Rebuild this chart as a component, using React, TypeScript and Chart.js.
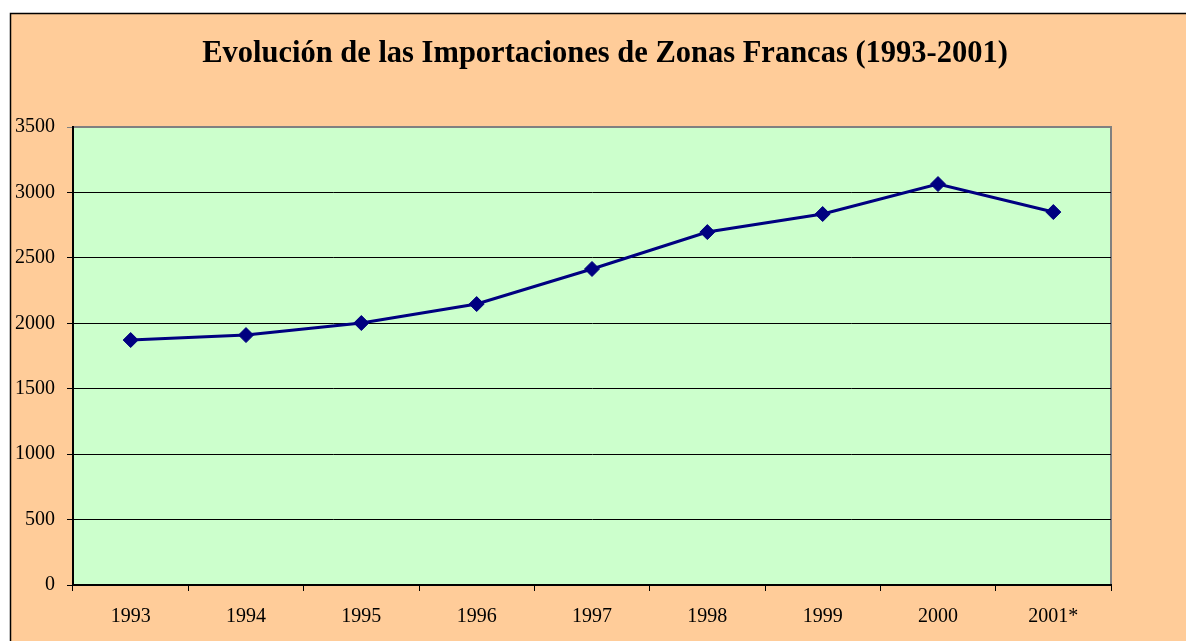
import React, { useEffect, useRef } from "react";
import { Chart, registerables } from "chart.js";

Chart.register(...registerables);

const TITLE = "Evolución de las Importaciones de Zonas Francas (1993-2001)";
const CATEGORIES = ["1993", "1994", "1995", "1996", "1997", "1998", "1999", "2000", "2001*"];
const IMPORTS = [1872, 1910, 2002, 2147, 2415, 2697, 2835, 3064, 2850];
const Y_MIN = 0;
const Y_MAX = 3500;
const Y_STEP = 500;

const FONT = "'Liberation Serif', 'Times New Roman', serif";

const backgroundPlugin = {
  id: "bgPlugin",
  beforeDraw(chart: any) {
    const { ctx, width, height, chartArea } = chart;
    ctx.save();
    ctx.fillStyle = "#ffffff";
    ctx.fillRect(0, 0, width, height);
    ctx.fillStyle = "#FFCC99";
    ctx.fillRect(10, 13, width - 10, height - 13);
    ctx.strokeStyle = "#000000";
    ctx.lineWidth = 1.5;
    ctx.beginPath();
    ctx.moveTo(10.5, height);
    ctx.lineTo(10.5, 13.5);
    ctx.lineTo(width, 13.5);
    ctx.stroke();
    ctx.fillStyle = "#CCFFCC";
    ctx.fillRect(chartArea.left, chartArea.top, chartArea.right - chartArea.left, chartArea.bottom - chartArea.top);
    ctx.strokeStyle = "#808080";
    ctx.lineWidth = 2;
    ctx.beginPath();
    ctx.moveTo(chartArea.left, chartArea.top);
    ctx.lineTo(chartArea.right, chartArea.top);
    ctx.lineTo(chartArea.right, chartArea.bottom);
    ctx.stroke();
    ctx.fillStyle = "#000000";
    ctx.font = `bold 30.5px ${FONT}`;
    ctx.textAlign = "center";
    ctx.textBaseline = "alphabetic";
    ctx.fillText(TITLE, 605, 62);
    ctx.restore();
  },
};

export default function App() {
  const ref = useRef<HTMLCanvasElement | null>(null);
  useEffect(() => {
    if (!ref.current) return;
    const chart = new Chart(ref.current, {
      type: "line",
      data: {
        labels: CATEGORIES,
        datasets: [
          {
            label: "Importaciones",
            data: IMPORTS,
            borderColor: "#000080",
            backgroundColor: "#000080",
            borderWidth: 3,
            pointStyle: "rectRot",
            pointRadius: 7.5,
            pointBorderWidth: 1,
            pointBackgroundColor: "#000080",
            pointBorderColor: "#000080",
            tension: 0,
          },
        ],
      },
      options: {
        responsive: false,
        animation: false,
        layout: { padding: { left: 0, top: 127, right: 75, bottom: 0 } },
        plugins: {
          legend: { display: false },
          title: { display: false },
          tooltip: { enabled: false },
        },
        scales: {
          x: {
            offset: true,
            grid: {
              offset: true,
              drawOnChartArea: false,
              drawTicks: true,
              tickLength: 6,
              color: "#000000",
              lineWidth: 1,
            },
            border: { display: true, color: "#000000", width: 2 },
            ticks: {
              color: "#000000",
              font: { family: FONT, size: 20 },
              padding: 14,
              maxRotation: 0,
              autoSkip: false,
            },
            afterFit(scale: any) {
              scale.height = 56;
            },
          },
          y: {
            min: Y_MIN,
            max: Y_MAX,
            grid: {
              drawTicks: true,
              tickLength: 6,
              color: (c: any) => (c.tick && c.tick.value === Y_MAX ? "#808080" : "#000000"),
              lineWidth: 1,
            },
            border: { display: true, color: "#000000", width: 2 },
            ticks: {
              stepSize: Y_STEP,
              color: "#000000",
              font: { family: FONT, size: 20 },
              padding: 12,
              callback: (v: any) => String(v),
            },
            afterFit(scale: any) {
              scale.width = 73;
            },
          },
        },
      },
      plugins: [backgroundPlugin],
    });
    return () => chart.destroy();
  }, []);
  return (
    <div style={{ position: "fixed", left: 0, top: 0, width: 1186, height: 641, background: "#fff" }}>
      <canvas ref={ref} width={1186} height={641} style={{ display: "block" }} />
    </div>
  );
}
